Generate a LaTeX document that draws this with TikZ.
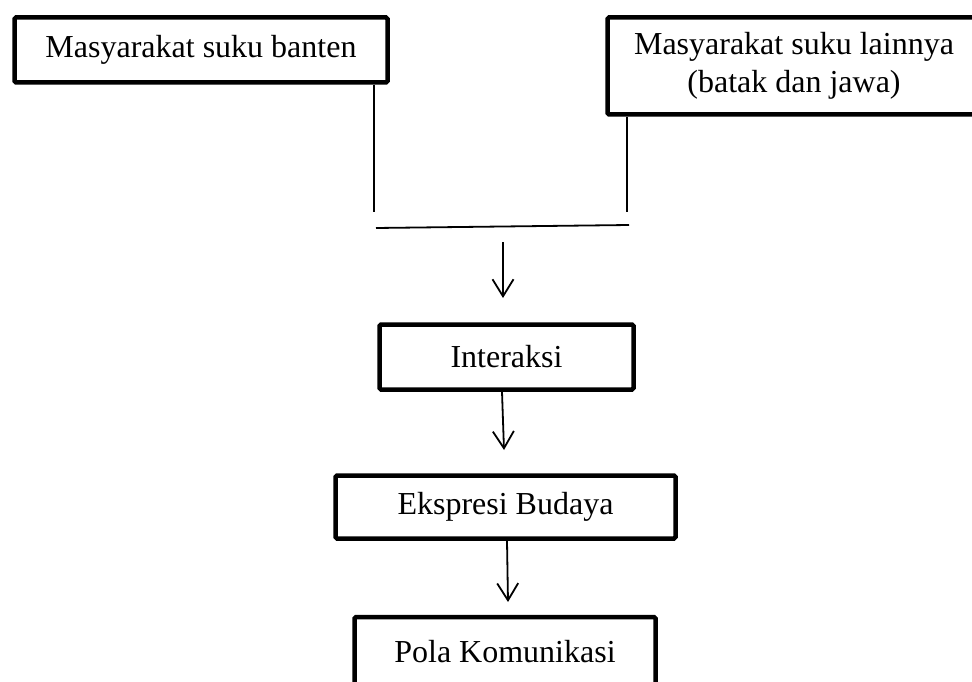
\documentclass[tikz,border=0pt]{standalone}
\usepackage{fontspec}
\setmainfont{Liberation Serif}
\usetikzlibrary{arrows.meta}
\tikzset{
	kotak/.style={draw, line width=4.5pt, rounded corners=1.5pt, align=center, inner sep=0pt, font=\fontsize{32}{38}\selectfont},
	garis/.style={line width=1.8pt},
	panah/.style={line width=1.8pt, -{Straight Barb[length=17pt, width=21pt]}}
}
\begin{document}
\begin{tikzpicture}[x=1pt, y=-1pt]
				\useasboundingbox (0,0) rectangle (972,682);
				\node[kotak, minimum width=373pt, minimum height=65pt] (banten) at (201,50) {Masyarakat suku banten};
				\node[kotak, minimum width=373pt, minimum height=97pt] (lainnya) at (794,66) {Masyarakat suku lainnya\\(batak dan jawa)};
				\node[kotak, minimum width=254pt, minimum height=65pt] (interaksi) at (506.5,357) {Interaksi};
				\node[kotak, minimum width=340pt, minimum height=63pt] (ekspresi) at (505.5,507) {Ekspresi Budaya};
				\node[kotak, minimum width=301pt, minimum height=70pt] (pola) at (505,652) {Pola Komunikasi};
				\coordinate (kiri) at (374,212);
				\coordinate (kanan) at (627,212);
				\coordinate (ga) at (376,228);
				\coordinate (gb) at (629,225);
				\coordinate (p1) at (503,242);
				\coordinate (q1) at (503,298);
				\coordinate (p2) at (502,0);
				\coordinate (q2) at (504,450);
				\coordinate (p3) at (507,0);
				\coordinate (q3) at (508,602);
				\draw[garis] (kiri |- banten.south) -- (kiri);
				\draw[garis] (kanan |- lainnya.south) -- (kanan);
				\draw[garis] (ga) -- (gb);
				\draw[panah] (p1) -- (q1);
				\draw[panah] (interaksi.south -| p2) -- (q2);
				\draw[panah] (ekspresi.south -| p3) -- (q3);
\end{tikzpicture}
\end{document}
